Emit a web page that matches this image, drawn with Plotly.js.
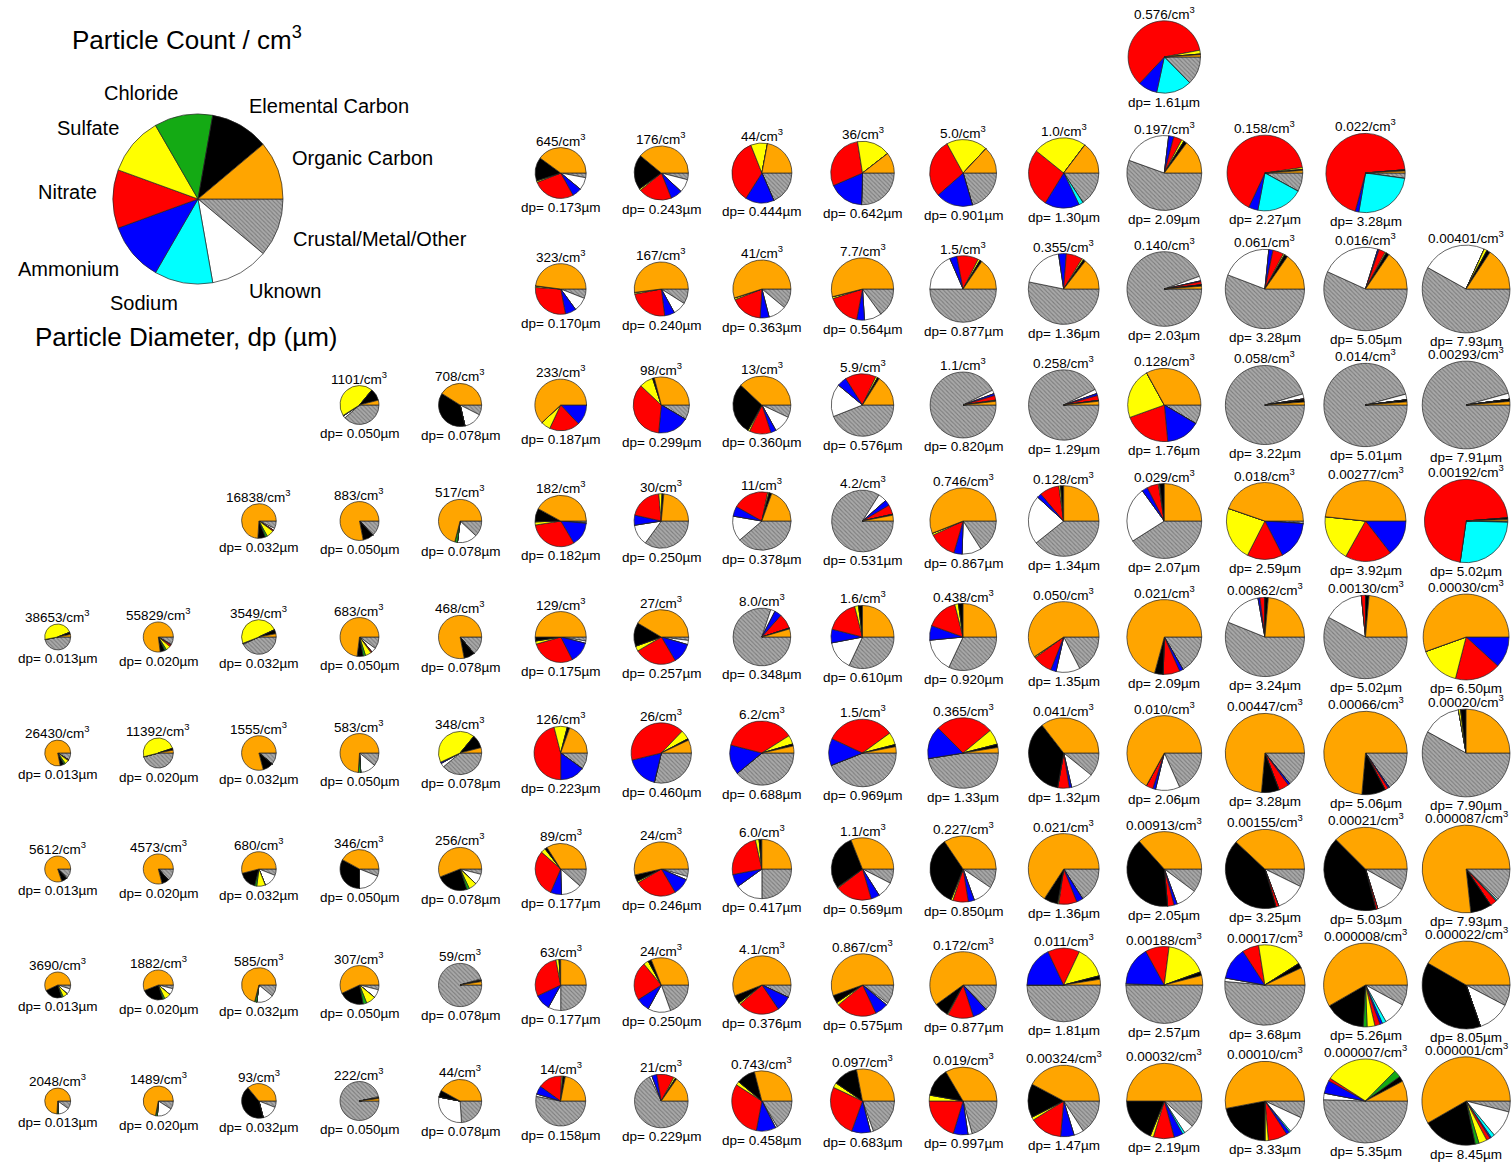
<!DOCTYPE html>
<html>
<head>
<meta charset="utf-8">
<script src="https://cdn.plot.ly/plotly-3.0.1.min.js"></script>
<style>
  html, body { margin: 0; padding: 0; background: #ffffff; }
  #chart { width: 1512px; height: 1163px; }
</style>
</head>
<body>
<div id="chart"></div>
<script>
// Chemical components, listed counter-clockwise from 3 o'clock
const components = ['Organic Carbon', 'Elemental Carbon', 'Chloride', 'Sulfate', 'Nitrate',
                    'Ammonium', 'Sodium', 'Uknown', 'Crustal/Metal/Other'];
const componentColors = ['#ffa500', '#000000', '#14aa14', '#ffff00', '#ff0000',
                         '#0000ff', '#00ffff', '#ffffff', '#a6a6a6'];
const legendShares = [1, 1, 1, 1, 1, 1, 1, 1, 1];

// Particle number concentration labels (per cm3), one list per row of pies
const counts = [
  ['0.576'],
  ['645', '176', '44', '36', '5.0', '1.0', '0.197', '0.158', '0.022'],
  ['323', '167', '41', '7.7', '1.5', '0.355', '0.140', '0.061', '0.016', '0.00401'],
  ['1101', '708', '233', '98', '13', '5.9', '1.1', '0.258', '0.128', '0.058', '0.014', '0.00293'],
  ['16838', '883', '517', '182', '30', '11', '4.2', '0.746', '0.128', '0.029', '0.018', '0.00277', '0.00192'],
  ['38653', '55829', '3549', '683', '468', '129', '27', '8.0', '1.6', '0.438', '0.050', '0.021', '0.00862', '0.00130', '0.00030'],
  ['26430', '11392', '1555', '583', '348', '126', '26', '6.2', '1.5', '0.365', '0.041', '0.010', '0.00447', '0.00066', '0.00020'],
  ['5612', '4573', '680', '346', '256', '89', '24', '6.0', '1.1', '0.227', '0.021', '0.00913', '0.00155', '0.00021', '0.000087'],
  ['3690', '1882', '585', '307', '59', '63', '24', '4.1', '0.867', '0.172', '0.011', '0.00188', '0.00017', '0.000008', '0.000022'],
  ['2048', '1489', '93', '222', '44', '14', '21', '0.743', '0.097', '0.019', '0.00324', '0.00032', '0.00010', '0.000007', '0.000001']
];

// Particle diameters (um), same layout as counts
const diameters = [
  ['1.61'],
  ['0.173', '0.243', '0.444', '0.642', '0.901', '1.30', '2.09', '2.27', '3.28'],
  ['0.170', '0.240', '0.363', '0.564', '0.877', '1.36', '2.03', '3.28', '5.05', '7.93'],
  ['0.050', '0.078', '0.187', '0.299', '0.360', '0.576', '0.820', '1.29', '1.76', '3.22', '5.01', '7.91'],
  ['0.032', '0.050', '0.078', '0.182', '0.250', '0.378', '0.531', '0.867', '1.34', '2.07', '2.59', '3.92', '5.02'],
  ['0.013', '0.020', '0.032', '0.050', '0.078', '0.175', '0.257', '0.348', '0.610', '0.920', '1.35', '2.09', '3.24', '5.02', '6.50'],
  ['0.013', '0.020', '0.032', '0.050', '0.078', '0.223', '0.460', '0.688', '0.969', '1.33', '1.32', '2.06', '3.28', '5.06', '7.90'],
  ['0.013', '0.020', '0.032', '0.050', '0.078', '0.177', '0.246', '0.417', '0.569', '0.850', '1.36', '2.05', '3.25', '5.03', '7.93'],
  ['0.013', '0.020', '0.032', '0.050', '0.078', '0.177', '0.250', '0.376', '0.575', '0.877', '1.81', '2.57', '3.68', '5.26', '8.05'],
  ['0.013', '0.020', '0.032', '0.050', '0.078', '0.158', '0.229', '0.458', '0.683', '0.997', '1.47', '2.19', '3.33', '5.35', '8.45']
];

// Mass fractions per pie: [OC, EC, Cl, SO4, NO3, NH4, Na, Unknown, Crustal]
const sharesRow0 = [
  [0.01, 0.003, 0, 0.017, 0.60, 0.086, 0.158, 0, 0.126]
];
const sharesRow1 = [
  [0.40, 0.15, 0, 0.01, 0.27, 0.06, 0, 0.08, 0.03],
  [0.39, 0.21, 0, 0.01, 0.20, 0.07, 0, 0.08, 0.04],
  [0.22, 0, 0, 0.09, 0.35, 0.155, 0, 0, 0.185],
  [0.105, 0, 0, 0.17, 0.29, 0.18, 0, 0, 0.255],
  [0.13, 0, 0, 0.20, 0.285, 0.18, 0, 0, 0.205],
  [0.147, 0, 0, 0.245, 0.27, 0.16, 0.02, 0, 0.158],
  [0.148, 0.014, 0, 0.011, 0.036, 0.022, 0, 0.214, 0.555],
  [0.01, 0.005, 0, 0.008, 0.657, 0.04, 0.20, 0, 0.08],
  [0.008, 0.005, 0, 0, 0.695, 0.015, 0.255, 0, 0.022]
];
const sharesRow2 = [
  [0.48, 0, 0, 0.01, 0.29, 0.07, 0, 0.09, 0.06],
  [0.52, 0, 0, 0.01, 0.24, 0.06, 0, 0.08, 0.09],
  [0.55, 0, 0, 0.01, 0.18, 0.05, 0, 0.10, 0.11],
  [0.54, 0, 0, 0.01, 0.17, 0.04, 0, 0.09, 0.15],
  [0.155, 0.01, 0, 0.01, 0.105, 0.035, 0, 0.185, 0.50],
  [0.145, 0.01, 0, 0.008, 0.075, 0.035, 0, 0.195, 0.532],
  [0.012, 0.006, 0, 0, 0.014, 0.003, 0, 0.02, 0.945],
  [0.153, 0.014, 0, 0.006, 0.044, 0.017, 0, 0.208, 0.558],
  [0.155, 0.012, 0, 0.005, 0.025, 0.005, 0, 0.23, 0.568],
  [0.158, 0.013, 0, 0.011, 0, 0, 0, 0.237, 0.581]
];
const sharesRow3 = [
  [0.04, 0.10, 0, 0.45, 0, 0.005, 0, 0.02, 0.385],
  [0.41, 0.376, 0, 0, 0, 0, 0, 0.139, 0.075],
  [0.62, 0, 0, 0.06, 0.19, 0.13, 0, 0, 0],
  [0.29, 0.01, 0, 0.08, 0.355, 0.18, 0, 0, 0.085],
  [0.38, 0.29, 0, 0.01, 0.12, 0.03, 0, 0.10, 0.07],
  [0.16, 0.01, 0, 0.01, 0.16, 0.05, 0, 0.17, 0.44],
  [0.018, 0.003, 0, 0.003, 0.022, 0.01, 0, 0.018, 0.926],
  [0.017, 0.004, 0, 0, 0.022, 0.01, 0, 0.02, 0.927],
  [0.33, 0, 0, 0.225, 0.21, 0.15, 0, 0, 0.085],
  [0.012, 0.01, 0, 0, 0.003, 0, 0, 0.02, 0.955],
  [0.012, 0.008, 0, 0, 0, 0, 0, 0.022, 0.958],
  [0.013, 0.008, 0, 0, 0, 0, 0, 0.022, 0.957]
];
const sharesRow4 = [
  [0.74, 0.07, 0.02, 0.07, 0.01, 0, 0, 0.02, 0.07],
  [0.78, 0.09, 0, 0, 0, 0, 0, 0.01, 0.12],
  [0.71, 0, 0.02, 0, 0, 0, 0, 0.15, 0.12],
  [0.42, 0.085, 0, 0.02, 0.31, 0.15, 0, 0.005, 0.01],
  [0.235, 0.01, 0, 0.02, 0.20, 0.06, 0, 0.125, 0.35],
  [0.195, 0.015, 0, 0.008, 0.20, 0.055, 0, 0.14, 0.387],
  [0.03, 0.005, 0, 0, 0.05, 0.03, 0, 0.045, 0.84],
  [0.56, 0, 0, 0.01, 0.135, 0.04, 0, 0.095, 0.16],
  [0.25, 0.014, 0, 0.008, 0.09, 0.02, 0, 0.225, 0.393],
  [0.25, 0.02, 0, 0.005, 0.05, 0.025, 0, 0.24, 0.41],
  [0.447, 0, 0, 0.228, 0.15, 0.164, 0, 0, 0.011],
  [0.483, 0, 0, 0.186, 0.186, 0.145, 0, 0, 0],
  [0.006, 0.006, 0, 0, 0.715, 0, 0.268, 0, 0.005]
];
const sharesRow5 = [
  [0.03, 0.03, 0, 0.47, 0, 0, 0, 0, 0.47],
  [0.77, 0.05, 0.02, 0.05, 0.02, 0, 0, 0.01, 0.08],
  [0.03, 0.04, 0, 0.49, 0, 0, 0, 0.01, 0.43],
  [0.73, 0.05, 0.02, 0.05, 0.01, 0, 0, 0.04, 0.10],
  [0.78, 0.08, 0, 0, 0, 0, 0, 0, 0.14],
  [0.50, 0.025, 0, 0.02, 0.28, 0.135, 0, 0.015, 0.025],
  [0.415, 0.14, 0, 0.03, 0.25, 0.12, 0, 0.025, 0.02],
  [0.045, 0.005, 0, 0, 0.085, 0.04, 0, 0.025, 0.80],
  [0.25, 0.02, 0, 0.02, 0.17, 0.07, 0, 0.15, 0.32],
  [0.25, 0.022, 0, 0.018, 0.155, 0.07, 0, 0.165, 0.32],
  [0.594, 0, 0, 0.006, 0.09, 0.025, 0, 0.11, 0.175],
  [0.708, 0.037, 0, 0, 0.072, 0.016, 0, 0, 0.167],
  [0.236, 0.014, 0, 0, 0.02, 0.008, 0, 0.161, 0.561],
  [0.236, 0.014, 0, 0, 0.016, 0, 0, 0.156, 0.578],
  [0.555, 0, 0, 0.155, 0.172, 0.118, 0, 0, 0]
];
const sharesRow6 = [
  [0.78, 0.05, 0.02, 0.05, 0.01, 0, 0, 0, 0.09],
  [0.03, 0.02, 0, 0.49, 0, 0, 0, 0, 0.46],
  [0.79, 0.10, 0, 0, 0, 0, 0, 0, 0.11],
  [0.74, 0, 0.02, 0, 0, 0, 0, 0.13, 0.11],
  [0.04, 0.10, 0, 0.43, 0, 0.01, 0, 0.03, 0.39],
  [0.195, 0.015, 0, 0.08, 0.46, 0.15, 0, 0, 0.10],
  [0.07, 0.008, 0, 0.05, 0.41, 0.175, 0, 0, 0.287],
  [0.035, 0.01, 0, 0.045, 0.37, 0.15, 0, 0, 0.39],
  [0.03, 0.01, 0, 0.06, 0.33, 0.13, 0, 0, 0.44],
  [0.025, 0.015, 0, 0.07, 0.265, 0.15, 0, 0, 0.475],
  [0.355, 0.367, 0, 0, 0.053, 0.011, 0, 0.106, 0.108],
  [0.67, 0, 0, 0, 0.03, 0.012, 0, 0.105, 0.183],
  [0.736, 0.072, 0, 0, 0.042, 0.008, 0, 0, 0.142],
  [0.736, 0.092, 0, 0, 0.013, 0.005, 0, 0, 0.154],
  [0.25, 0.02, 0, 0.008, 0, 0, 0, 0.142, 0.58]
];
const sharesRow7 = [
  [0.80, 0.07, 0, 0, 0, 0, 0, 0.02, 0.11],
  [0.79, 0.08, 0, 0, 0, 0, 0, 0, 0.13],
  [0.54, 0.17, 0.02, 0.08, 0, 0, 0, 0.13, 0.06],
  [0.42, 0.33, 0, 0, 0, 0, 0, 0.19, 0.06],
  [0.56, 0.24, 0.02, 0.06, 0, 0, 0, 0.08, 0.04],
  [0.34, 0.015, 0, 0.03, 0.30, 0.07, 0, 0.13, 0.115],
  [0.535, 0.04, 0, 0.01, 0.25, 0.10, 0, 0.02, 0.045],
  [0.25, 0.015, 0, 0.02, 0.245, 0.07, 0, 0.15, 0.25],
  [0.31, 0.29, 0, 0.005, 0.19, 0.045, 0, 0.085, 0.075],
  [0.345, 0.345, 0, 0.01, 0.075, 0.03, 0, 0.10, 0.095],
  [0.658, 0.064, 0, 0.005, 0.083, 0.03, 0, 0, 0.16],
  [0.367, 0.397, 0, 0, 0.028, 0.014, 0, 0.092, 0.102],
  [0.38, 0.415, 0, 0, 0.012, 0, 0, 0.12, 0.073],
  [0.375, 0.415, 0, 0, 0.008, 0, 0, 0.12, 0.082],
  [0.767, 0.078, 0, 0, 0.025, 0, 0.005, 0.005, 0.12]
];
const sharesRow8 = [
  [0.57, 0.23, 0.02, 0.06, 0, 0, 0, 0.07, 0.05],
  [0.56, 0.24, 0.02, 0.07, 0, 0, 0, 0.07, 0.04],
  [0.71, 0, 0.02, 0, 0, 0, 0, 0.16, 0.11],
  [0.57, 0.21, 0.03, 0.08, 0, 0, 0, 0.07, 0.04],
  [0.025, 0.01, 0, 0, 0, 0, 0, 0.01, 0.955],
  [0.25, 0.01, 0, 0.02, 0.29, 0.10, 0, 0.08, 0.25],
  [0.31, 0.02, 0, 0.03, 0.23, 0.08, 0, 0.135, 0.195],
  [0.56, 0.045, 0, 0.01, 0.23, 0.085, 0, 0, 0.07],
  [0.555, 0.04, 0, 0.015, 0.21, 0.07, 0, 0.01, 0.10],
  [0.60, 0.07, 0, 0.005, 0.125, 0.07, 0, 0, 0.13],
  [0.025, 0.015, 0, 0.14, 0.14, 0.18, 0, 0, 0.50],
  [0.04, 0.015, 0, 0.175, 0.10, 0.165, 0, 0.005, 0.50],
  [0.07, 0.02, 0, 0.185, 0.067, 0.13, 0, 0.014, 0.514],
  [0.583, 0.158, 0.015, 0.03, 0.02, 0.01, 0.015, 0.09, 0.079],
  [0.417, 0.386, 0, 0, 0, 0, 0, 0.12, 0.077]
];
const sharesRow9 = [
  [0.74, 0, 0.02, 0, 0, 0, 0, 0.14, 0.10],
  [0.72, 0, 0.02, 0, 0, 0, 0, 0.17, 0.09],
  [0.36, 0.43, 0, 0, 0, 0, 0, 0.15, 0.06],
  [0.02, 0.005, 0, 0, 0, 0, 0, 0.01, 0.965],
  [0.42, 0.05, 0, 0, 0, 0, 0, 0.29, 0.24],
  [0.22, 0.015, 0, 0.01, 0.155, 0.055, 0, 0.015, 0.53],
  [0.153, 0.008, 0, 0.011, 0.105, 0.03, 0, 0.015, 0.678],
  [0.29, 0.10, 0, 0.02, 0.31, 0.105, 0, 0.01, 0.165],
  [0.28, 0.125, 0, 0.025, 0.265, 0.095, 0, 0.015, 0.195],
  [0.335, 0.137, 0, 0.028, 0.203, 0.07, 0, 0.02, 0.207],
  [0.422, 0.153, 0, 0.014, 0.147, 0.061, 0, 0.045, 0.158],
  [0.50, 0.189, 0, 0.014, 0.089, 0.039, 0.01, 0.042, 0.117],
  [0.53, 0.22, 0, 0.014, 0.078, 0.014, 0.006, 0.069, 0.069],
  [0.078, 0.02, 0.028, 0.283, 0.011, 0.05, 0, 0.025, 0.505],
  [0.583, 0.20, 0.014, 0.03, 0.014, 0.005, 0.014, 0.10, 0.04]
];
const shares = [sharesRow0, sharesRow1, sharesRow2, sharesRow3, sharesRow4,
                sharesRow5, sharesRow6, sharesRow7, sharesRow8, sharesRow9];

// ---- page geometry (pixels) ----
const W = 1512, H = 1163;
const firstColumn = [11, 5, 5, 3, 2, 0, 0, 0, 0, 0];   // grid column of each row's first pie
const colX0 = 57.7, colStep = 100.6;
const rowY0 = 57, rowStep = 116;
const FONT = 'Liberation Sans, Arial, Helvetica, sans-serif';

const px = v => v / W;
const py = v => 1 - v / H;

// pie radius grows with the logarithm of particle diameter
const radiusFor = dp => 33.9 + 11.1 * Math.log10(dp);

// Slices are drawn clockwise from 3 o'clock in reverse component order,
// which lays the components out counter-clockwise starting at 3 o'clock.
const rev = a => a.slice().reverse();
const sliceLabels = rev(components);
const sliceColors = rev(componentColors);
const sliceHatch = rev(components.map((c, i) => i === components.length - 1 ? '\\' : ''));

function pieTrace(values, cx, cy, r) {
  return {
    type: 'pie',
    values: rev(values),
    labels: sliceLabels,
    sort: false,
    direction: 'clockwise',
    rotation: 90,
    textinfo: 'none',
    hoverinfo: 'label+percent',
    showlegend: false,
    domain: { x: [px(cx - r), px(cx + r)], y: [py(cy + r), py(cy - r)] },
    marker: {
      colors: sliceColors,
      line: { color: '#222222', width: 0.7 },
      pattern: { shape: sliceHatch, size: 3, solidity: 0.35, fgcolor: '#7c7c7c',
                 bgcolor: '#a9a9a9', fillmode: 'replace' }
    }
  };
}

const traces = [];
const annotations = [];

function label(text, x, y, size, xanchor) {
  annotations.push({
    text: text, x: px(x), y: py(y), xref: 'paper', yref: 'paper',
    xanchor: xanchor || 'center', yanchor: 'middle', showarrow: false,
    font: { family: FONT, size: size, color: '#000000' }
  });
}

// grid of composition pies
shares.forEach((row, ri) => {
  row.forEach((vals, k) => {
    const col = firstColumn[ri] + k;
    const cx = colX0 + colStep * col;
    const cy = rowY0 + rowStep * ri;
    const dp = parseFloat(diameters[ri][k]);
    const r = radiusFor(dp);
    traces.push(pieTrace(vals, cx, cy, r));
    label(counts[ri][k] + '/cm<sup>3</sup>', cx, cy - r - 8, 13.5);
    label('dp= ' + diameters[ri][k] + '\u00b5m', cx, cy + r + 9, 13.5);
  });
});

// key pie with component names
traces.push(pieTrace(legendShares, 198, 199, 85));
label('Particle Count / cm<sup>3</sup>', 70, 38, 26, 'left');
label('Particle Diameter, dp (\u00b5m)', 33, 337, 26, 'left');
label('Chloride', 141, 93, 20);
label('Elemental Carbon', 247, 106, 20, 'left');
label('Sulfate', 88, 128, 20);
label('Organic Carbon', 290, 158, 20, 'left');
label('Nitrate', 67, 192, 20);
label('Crustal/Metal/Other', 291, 239, 20, 'left');
label('Ammonium', 68, 269, 20);
label('Uknown', 247, 291, 20, 'left');
label('Sodium', 144, 303, 20);

const layout = {
  width: W, height: H,
  margin: { l: 0, r: 0, t: 0, b: 0 },
  paper_bgcolor: '#ffffff',
  plot_bgcolor: '#ffffff',
  showlegend: false,
  annotations: annotations
};

Plotly.newPlot('chart', traces, layout, { displayModeBar: false, staticPlot: true });
</script>
</body>
</html>
